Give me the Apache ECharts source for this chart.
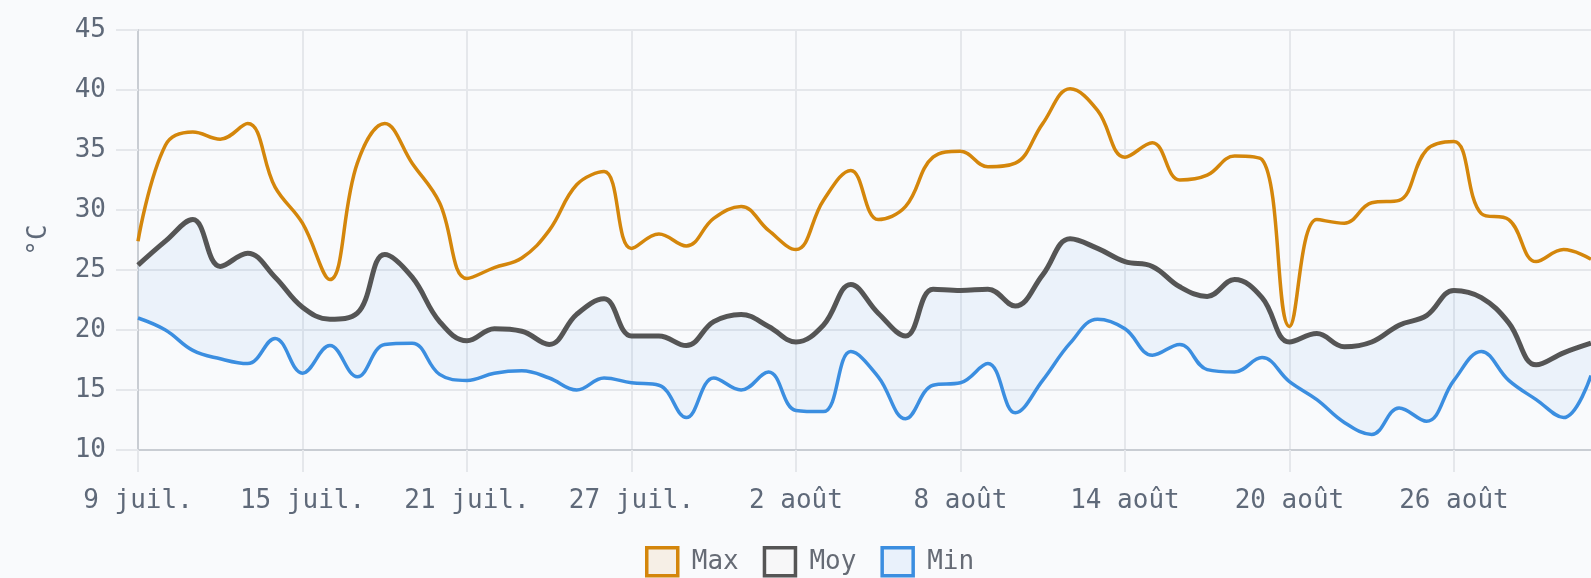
<!DOCTYPE html>
<html>
<head>
<meta charset="utf-8">
<title>Températures</title>
<script src="https://cdn.jsdelivr.net/npm/echarts@6/dist/echarts.min.js"></script>
<style>
  html, body { margin: 0; padding: 0; background: #f9fafc; }
  #chart { width: 1591px; height: 578px; }
</style>
</head>
<body>
<div id="chart"></div>
<script>
// jours (9 juil. -> 31 août)
var dates = [
  '9 juil.', '10 juil.', '11 juil.', '12 juil.', '13 juil.', '14 juil.', '15 juil.', '16 juil.',
  '17 juil.', '18 juil.', '19 juil.', '20 juil.', '21 juil.', '22 juil.', '23 juil.', '24 juil.',
  '25 juil.', '26 juil.', '27 juil.', '28 juil.', '29 juil.', '30 juil.', '31 juil.',
  '1 août', '2 août', '3 août', '4 août', '5 août', '6 août', '7 août', '8 août', '9 août',
  '10 août', '11 août', '12 août', '13 août', '14 août', '15 août', '16 août', '17 août',
  '18 août', '19 août', '20 août', '21 août', '22 août', '23 août', '24 août', '25 août',
  '26 août', '27 août', '28 août', '29 août', '30 août', '31 août'
];

var maxT = [27.4, 35.4, 36.5, 35.9, 37.2, 31.9, 28.9, 24.2, 33.9, 37.2,
  33.9, 30.6, 24.3, 25.2, 26.0, 28.3, 32.1, 33.2, 26.8, 28.0,
  27.0, 29.3, 30.3, 28.3, 26.7, 30.8, 33.3, 29.2, 30.3, 34.4,
  34.9, 33.6, 33.9, 37.2, 40.1, 38.3, 34.4, 35.6, 32.5, 32.9,
  34.5, 34.2, 20.3, 29.2, 28.9, 30.6, 30.8, 35.0, 35.7, 29.7,
  29.2, 25.7, 26.7, 25.9];

var moyT = [25.4, 27.4, 29.2, 25.3, 26.4, 24.4, 21.9, 20.9, 21.4, 26.3,
  24.4, 20.7, 19.1, 20.1, 19.9, 18.8, 21.3, 22.6, 19.5, 19.5,
  18.7, 20.7, 21.3, 20.3, 19.0, 20.4, 23.8, 21.4, 19.5, 23.4,
  23.3, 23.4, 22.0, 24.6, 27.6, 26.8, 25.7, 25.3, 23.6, 22.8,
  24.2, 22.7, 19.0, 19.7, 18.6, 19.0, 20.4, 21.2, 23.3, 22.7,
  20.6, 17.1, 18.1, 18.9];

var minT = [21.0, 20.0, 18.3, 17.6, 17.2, 19.3, 16.4, 18.7, 16.1, 18.8,
  18.9, 16.3, 15.8, 16.4, 16.6, 16.0, 15.0, 16.0, 15.6, 15.4,
  12.7, 16.0, 15.0, 16.5, 13.3, 13.2, 18.2, 16.1, 12.6, 15.4,
  15.6, 17.2, 13.1, 15.8, 18.9, 20.9, 20.1, 17.9, 18.8, 16.7,
  16.5, 17.7, 15.7, 14.2, 12.3, 11.3, 13.5, 12.4, 15.8, 18.2,
  15.8, 14.2, 12.7, 16.2];

var yTicks = { min: 10, max: 45, step: 5 };

// ecart moy - min pour la zone remplie
var band = moyT.map(function(v, i){ return +(v - minT[i]).toFixed(2); });

var font = '"DejaVu Sans Mono", "Liberation Mono", monospace';
var gridCol = '#e5e7eb';
var txtCol = '#5f6979';

var myChart = echarts.init(document.getElementById('chart'));
var option = {
  backgroundColor: '#f9fafc',
  animation: false,
  grid: { left: 138, right: -5, top: 30, bottom: 128 },
  xAxis: {
    type: 'category',
    data: dates,
    boundaryGap: false,
    axisLine: { lineStyle: { color: '#c9cdd3', width: 2 } },
    axisTick: { show: true, length: 22, interval: 5, lineStyle: { color: gridCol, width: 2 } },
    splitLine: { show: true, interval: 5, lineStyle: { color: gridCol, width: 2 } },
    axisLabel: { interval: 5, margin: 38, fontFamily: font, fontSize: 26, color: txtCol }
  },
  yAxis: {
    type: 'value',
    min: yTicks.min, max: yTicks.max, interval: yTicks.step,
    name: '°C',
    nameLocation: 'middle',
    nameRotate: 90,
    nameGap: 86,
    nameTextStyle: { fontFamily: font, fontSize: 26, color: txtCol },
    axisLine: { show: true, lineStyle: { color: '#c9cdd3', width: 2 } },
    axisTick: { show: true, length: 22, lineStyle: { color: gridCol, width: 2 } },
    splitLine: { lineStyle: { color: gridCol, width: 2 } },
    axisLabel: { margin: 32, fontFamily: font, fontSize: 26, color: txtCol }
  },
  legend: {
    top: 541, left: 640,
    icon: 'rect',
    itemWidth: 31, itemHeight: 28, itemGap: 24,
    textStyle: { fontFamily: font, fontSize: 26, color: '#666b75', padding: [0, 0, 0, 9] },
    data: [
      { name: 'Max', itemStyle: { color: '#f6efe6', borderColor: '#d4860b', borderWidth: 3.5 } },
      { name: 'Moy', itemStyle: { color: '#f7f7f8', borderColor: '#555555', borderWidth: 3.5 } },
      { name: 'Min', itemStyle: { color: '#e9f1fb', borderColor: '#3b8ee0', borderWidth: 3.5 } }
    ]
  },
  series: [
    {
      name: 'base', type: 'line', stack: 'band', data: minT, smooth: 0.4,
      symbol: 'none', lineStyle: { opacity: 0 }, silent: true, z: 1
    },
    {
      name: 'bande', type: 'line', stack: 'band', data: band, smooth: 0.4,
      symbol: 'none', lineStyle: { opacity: 0 }, silent: true, z: 1,
      areaStyle: { color: 'rgba(59,142,224,0.1)' }
    },
    {
      name: 'Max', type: 'line', data: maxT, smooth: 0.4, symbol: 'none', z: 3,
      lineStyle: { color: '#d4860b', width: 3.5 }, itemStyle: { color: '#d4860b' }
    },
    {
      name: 'Moy', type: 'line', data: moyT, smooth: 0.4, symbol: 'none', z: 3,
      lineStyle: { color: '#555555', width: 5 }, itemStyle: { color: '#555555' }
    },
    {
      name: 'Min', type: 'line', data: minT, smooth: 0.4, symbol: 'none', z: 3,
      lineStyle: { color: '#3b8ee0', width: 3.5 }, itemStyle: { color: '#3b8ee0' }
    }
  ]
};
myChart.setOption(option);
</script>
</body>
</html>
